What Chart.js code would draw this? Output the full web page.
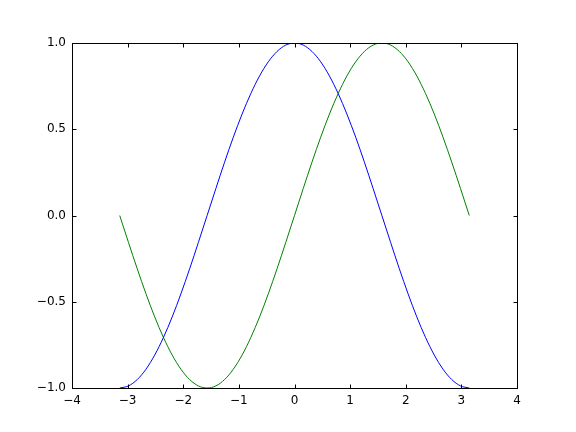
<!DOCTYPE html>
<html>
<head>
<meta charset="utf-8">
<script src="https://cdn.jsdelivr.net/npm/chart.js@4/dist/chart.umd.min.js"></script>
<style>
  html, body { margin: 0; padding: 0; background: #fff; }
  #wrap { width: 576px; height: 432px; }
</style>
</head>
<body>
<div id="wrap"><canvas id="plot" width="576" height="432"></canvas></div>
<script>
// x samples from -pi to pi
const xValues = [-3.142, -2.985, -2.827, -2.670, -2.513, -2.356, -2.199, -2.042, -1.885, -1.728,
    -1.571, -1.414, -1.257, -1.100, -0.942, -0.785, -0.628, -0.471, -0.314, -0.157,
    0.000, 0.157, 0.314, 0.471, 0.628, 0.785, 0.942, 1.100, 1.257, 1.414,
    1.571, 1.728, 1.885, 2.042, 2.199, 2.356, 2.513, 2.670, 2.827, 2.985, 3.142];

const cosValues = [-1.000, -0.988, -0.951, -0.891, -0.809, -0.707, -0.588, -0.454, -0.309, -0.156,
    0.000, 0.156, 0.309, 0.454, 0.588, 0.707, 0.809, 0.891, 0.951, 0.988,
    1.000, 0.988, 0.951, 0.891, 0.809, 0.707, 0.588, 0.454, 0.309, 0.156,
    0.000, -0.156, -0.309, -0.454, -0.588, -0.707, -0.809, -0.891, -0.951, -0.988, -1.000];

const sinValues = [0.000, -0.156, -0.309, -0.454, -0.588, -0.707, -0.809, -0.891, -0.951, -0.988,
    -1.000, -0.988, -0.951, -0.891, -0.809, -0.707, -0.588, -0.454, -0.309, -0.156,
    0.000, 0.156, 0.309, 0.454, 0.588, 0.707, 0.809, 0.891, 0.951, 0.988,
    1.000, 0.988, 0.951, 0.891, 0.809, 0.707, 0.588, 0.454, 0.309, 0.156, 0.000];

const xTicks = [-4, -3, -2, -1, 0, 1, 2, 3, 4];
const yTicks = [-1.0, -0.5, 0.0, 0.5, 1.0];

const minus = s => s.replace('-', '\u2212');

// matplotlib style: frame on all sides, ticks pointing inward
const frameTicks = {
    id: 'frameTicks',
    afterDraw(chart) {
        const ctx = chart.ctx;
        const a = chart.chartArea;
        const L = Math.round(a.left) + 0.5, R = Math.round(a.right) + 0.5;
        const T = Math.round(a.top) + 0.5, B = Math.round(a.bottom) + 0.5;
        ctx.save();
        ctx.strokeStyle = '#000';
        ctx.lineWidth = 1;
        ctx.beginPath();
        chart.scales.x.ticks.forEach(t => {
            const px = Math.round(chart.scales.x.getPixelForValue(t.value)) + 0.5;
            ctx.moveTo(px, B); ctx.lineTo(px, B - 4);
            ctx.moveTo(px, T); ctx.lineTo(px, T + 4);
        });
        chart.scales.y.ticks.forEach(t => {
            const py = Math.round(chart.scales.y.getPixelForValue(t.value)) + 0.5;
            ctx.moveTo(L, py); ctx.lineTo(L + 4, py);
            ctx.moveTo(R, py); ctx.lineTo(R - 4, py);
        });
        ctx.stroke();
        ctx.strokeRect(L, T, R - L, B - T);
        ctx.restore();
    }
};

const toPoints = ys => xValues.map((x, i) => ({ x: x, y: ys[i] }));

new Chart(document.getElementById('plot'), {
    type: 'line',
    data: {
        datasets: [
            { data: toPoints(cosValues), borderColor: '#0000ff', borderWidth: 1,
              pointRadius: 0, cubicInterpolationMode: 'monotone', fill: false },
            { data: toPoints(sinValues), borderColor: '#008000', borderWidth: 1,
              pointRadius: 0, cubicInterpolationMode: 'monotone', fill: false }
        ]
    },
    options: {
        responsive: false,
        animation: false,
        layout: { padding: { left: 0, top: 43, right: 59, bottom: 0 } },
        plugins: { legend: { display: false }, tooltip: { enabled: false } },
        scales: {
            x: {
                type: 'linear', min: -4, max: 4,
                afterBuildTicks: s => { s.ticks = xTicks.map(v => ({ value: v })); },
                afterFit: s => { s.height = 44; },
                grid: { display: false, drawTicks: false },
                border: { display: false },
                ticks: {
                    color: '#000', padding: 6,
                    font: { family: 'DejaVu Sans', size: 12 },
                    callback: v => minus(String(v))
                }
            },
            y: {
                type: 'linear', min: -1, max: 1,
                afterBuildTicks: s => { s.ticks = yTicks.map(v => ({ value: v })); },
                afterFit: s => { s.width = 72; },
                grid: { display: false, drawTicks: false },
                border: { display: false },
                ticks: {
                    color: '#000', padding: 6,
                    font: { family: 'DejaVu Sans', size: 12 },
                    callback: v => minus(Number(v).toFixed(1))
                }
            }
        }
    },
    plugins: [frameTicks]
});
</script>
</body>
</html>
